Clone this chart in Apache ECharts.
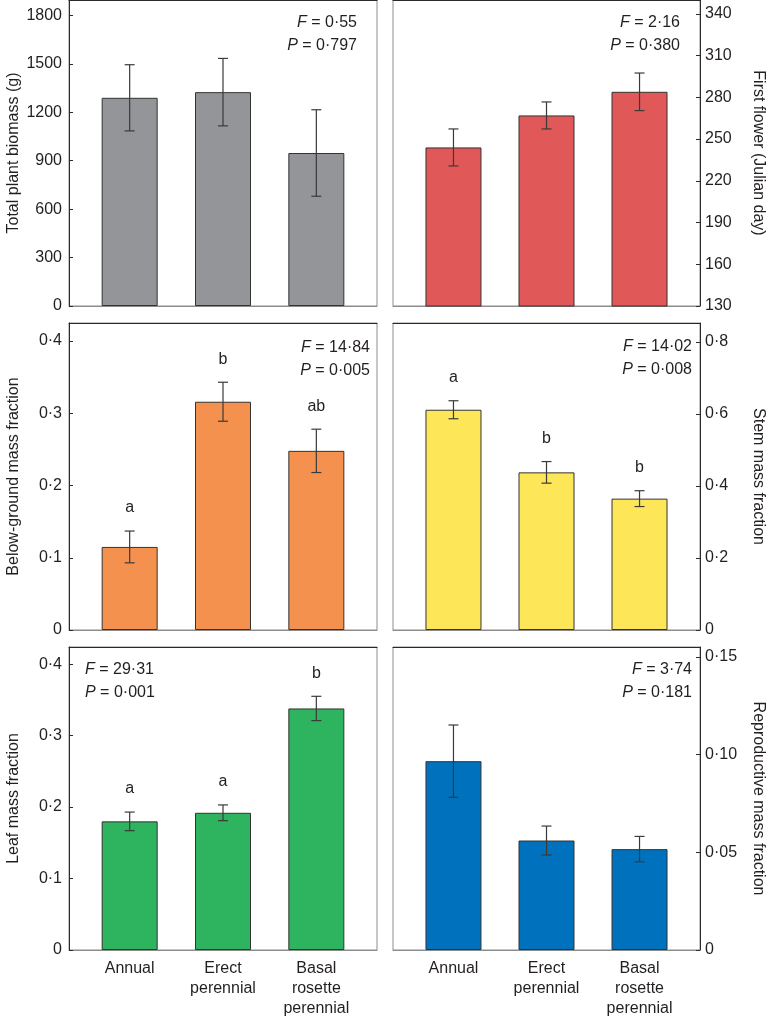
<!DOCTYPE html>
<html>
<head>
<meta charset="utf-8">
<script src="https://cdn.jsdelivr.net/npm/echarts@6/dist/echarts.min.js"></script>
<style>
html,body{margin:0;padding:0;background:#fff;}
#chart{width:769px;height:1019px;}
</style>
</head>
<body>
<div id="chart"></div>
<script>
// ---------------- data ----------------
const categories = ['Annual', 'Erect\nperennial', 'Basal\nrosette\nperennial'];
const catPos = [1, 2, 3];

const biomassMean = [1290, 1325, 948];
const biomassSE = [205, 209, 268];
const flowerMean = [244, 267, 284];
const flowerSE = [13.3, 9.7, 13.5];
const belowMean = [0.115, 0.316, 0.248];
const belowSE = [0.022, 0.027, 0.030];
const stemMean = [0.612, 0.438, 0.365];
const stemSE = [0.025, 0.030, 0.022];
const leafMean = [0.180, 0.192, 0.338];
const leafSE = [0.013, 0.011, 0.017];
const reproMean = [0.0966, 0.056, 0.0516];
const reproSE = [0.0185, 0.0074, 0.0065];

const belowLetters = ['a', 'b', 'ab'];
const stemLetters = ['a', 'b', 'b'];
const leafLetters = ['a', 'a', 'b'];

const statF = [0.55, 2.16, 14.84, 14.02, 29.31, 3.74];
const statP = [0.797, 0.380, 0.005, 0.008, 0.001, 0.181];

const biomassTicks = [0, 300, 600, 900, 1200, 1500, 1800];
const biomassTickLabels = ['0', '300', '600', '900', '1200', '1500', '1800'];
const flowerTicks = [130, 160, 190, 220, 250, 280, 310, 340];
const flowerTickLabels = ['130', '160', '190', '220', '250', '280', '310', '340'];
const fracTicks4 = [0, 0.1, 0.2, 0.3, 0.4];
const fracTickLabels4 = ['0', '0·1', '0·2', '0·3', '0·4'];
const fracTicks8 = [0, 0.2, 0.4, 0.6, 0.8];
const fracTickLabels8 = ['0', '0·2', '0·4', '0·6', '0·8'];
const reproTicks = [0, 0.05, 0.10, 0.15];
const reproTickLabels = ['0', '0·05', '0·10', '0·15'];

// ---------------- layout / style ----------------
const FONT = "'Liberation Sans', Arial, Helvetica, sans-serif";
const TXT = '#231f20';
const panels = [
  {grid:{left:69, top:0, width:308, height:306}, side:'left', ymin:0, ymax:1896,
   mean:biomassMean, se:biomassSE, ticks:biomassTicks, tickLabels:biomassTickLabels,
   name:'Total plant biomass (g)', color:'#939598', letters:null, bottom:false,
   stat:{x:357, y:23, align:'right'}},
  {grid:{left:393, top:0, width:307, height:306}, side:'right', ymin:130, ymax:350,
   mean:flowerMean, se:flowerSE, ticks:flowerTicks, tickLabels:flowerTickLabels,
   name:'First flower (Julian day)', color:'#e05858', letters:null, bottom:false,
   stat:{x:680, y:23, align:'right'}},
  {grid:{left:69, top:323, width:308, height:307}, side:'left', ymin:0, ymax:0.425,
   mean:belowMean, se:belowSE, ticks:fracTicks4, tickLabels:fracTickLabels4,
   name:'Below-ground mass fraction', color:'#f4914f', letters:belowLetters, bottom:false,
   stat:{x:370, y:348, align:'right'}},
  {grid:{left:393, top:323, width:307, height:307}, side:'right', ymin:0, ymax:0.853,
   mean:stemMean, se:stemSE, ticks:fracTicks8, tickLabels:fracTickLabels8,
   name:'Stem mass fraction', color:'#fde759', letters:stemLetters, bottom:false,
   stat:{x:692, y:347, align:'right'}},
  {grid:{left:69, top:647, width:308, height:306}, side:'left', ymin:0, ymax:0.424,
   mean:leafMean, se:leafSE, ticks:fracTicks4, tickLabels:fracTickLabels4,
   name:'Leaf mass fraction', color:'#2eb35f', letters:leafLetters, bottom:true,
   stat:{x:85, y:670, align:'left'}},
  {grid:{left:393, top:647, width:307, height:306}, side:'right', ymin:0, ymax:0.155,
   mean:reproMean, se:reproSE, ticks:reproTicks, tickLabels:reproTickLabels,
   name:'Reproductive mass fraction', color:'#0071bc', letters:null, bottom:true,
   stat:{x:692, y:670, align:'right'}}
];

function fmt(v, d) { return v.toFixed(d).replace('.', '·'); }

const grids = [], xAxes = [], yAxes = [], series = [], graphics = [];

panels.forEach(function (p, i) {
  grids.push(Object.assign({show:true, borderColor:'#8c8c8c', borderWidth:1, containLabel:false}, p.grid));
  xAxes.push({
    type:'value', gridIndex:i, min:0.35, max:3.65, position:'bottom',
    axisLine:{show:true, onZero:false, lineStyle:{color:'#8c8c8c', width:1}},
    axisTick:{show:false}, splitLine:{show:false},
    axisLabel:{show:p.bottom, customValues:catPos, margin:9, color:TXT,
      fontFamily:FONT, fontSize:16, lineHeight:20, verticalAlign:'top',
      formatter:function (v) { const k = catPos.indexOf(Math.round(v)); return k >= 0 ? categories[k] : ''; }}
  });
  xAxes.push({
    type:'value', gridIndex:i, min:0.35, max:3.65, position:'top',
    axisLine:{show:true, onZero:false, lineStyle:{color:'#2a2a2a', width:1}},
    axisTick:{show:false}, splitLine:{show:false}, axisLabel:{show:false}
  });
  yAxes.push({
    type:'value', gridIndex:i, min:p.ymin, max:p.ymax, position:p.side,
    name:p.name, nameLocation:'middle', nameGap: p.side === 'left' ? 47 : 50,
    nameRotate: p.side === 'left' ? 90 : -90,
    nameTextStyle:{color:TXT, fontFamily:FONT, fontSize:16},
    axisLine:{show:true, onZero:false, lineStyle:{color:'#2a2a2a', width:1}},
    axisTick:{show:true, inside:true, length:4, customValues:p.ticks, lineStyle:{color:'#2a2a2a'}},
    splitLine:{show:false},
    axisLabel:{customValues:p.ticks, margin: p.side === 'left' ? 7 : 5, color:TXT,
      fontFamily:FONT, fontSize:16,
      formatter:(function (ticks, labels) { return function (v) {
        for (let k = 0; k < ticks.length; k++) { if (Math.abs(ticks[k] - v) < 1e-9) return labels[k]; }
        return '';
      }; })(p.ticks, p.tickLabels)}
  });
  series.push({
    type:'bar', xAxisIndex:2 * i, yAxisIndex:i, barWidth:56, z:2,
    data: catPos.map(function (x, k) { return [x, p.mean[k]]; }),
    itemStyle:{color:p.color, borderColor:'#333', borderWidth:1},
    emphasis:{disabled:true}, silent:true
  });
  series.push({
    type:'custom', xAxisIndex:2 * i, yAxisIndex:i, silent:true, clip:false, z:10,
    data: catPos.map(function (x, k) { return [x, p.mean[k] - p.se[k], p.mean[k] + p.se[k]]; }),
    encode:{x:0, y:[1, 2]},
    renderItem:(function (letters) { return function (params, api) {
      const x = api.value(0);
      const top = api.coord([x, api.value(2)]);
      const bot = api.coord([x, api.value(1)]);
      const st = {stroke:'#3a3a3a', lineWidth:1.2};
      const cap = 5;
      const ch = [
        {type:'line', shape:{x1:top[0], y1:top[1], x2:bot[0], y2:bot[1]}, style:st},
        {type:'line', shape:{x1:top[0] - cap, y1:top[1], x2:top[0] + cap, y2:top[1]}, style:st},
        {type:'line', shape:{x1:bot[0] - cap, y1:bot[1], x2:bot[0] + cap, y2:bot[1]}, style:st}
      ];
      if (letters) {
        ch.push({type:'text', x:top[0], y:top[1] - 23,
          style:{text:letters[params.dataIndex], fill:TXT, font:'16px ' + FONT, align:'center', verticalAlign:'middle'}});
      }
      return {type:'group', children:ch};
    }; })(p.letters)
  });
  const rich = {i:{fontStyle:'italic', fontFamily:FONT, fontSize:16, fill:TXT, color:TXT}};
  graphics.push({type:'text', x:p.stat.x, y:p.stat.y, silent:true,
    style:{text:'{i|F} = ' + fmt(statF[i], 2), rich:rich, fill:TXT, font:'16px ' + FONT, align:p.stat.align, verticalAlign:'middle'}});
  graphics.push({type:'text', x:p.stat.x, y:p.stat.y + 23, silent:true,
    style:{text:'{i|P} = ' + fmt(statP[i], 3), rich:rich, fill:TXT, font:'16px ' + FONT, align:p.stat.align, verticalAlign:'middle'}});
});

const chart = echarts.init(document.getElementById('chart'), null, {renderer:'canvas'});
chart.setOption({
  animation:false,
  backgroundColor:'#fff',
  textStyle:{fontFamily:FONT},
  grid:grids, xAxis:xAxes, yAxis:yAxes, series:series, graphic:graphics
});
</script>
</body>
</html>
